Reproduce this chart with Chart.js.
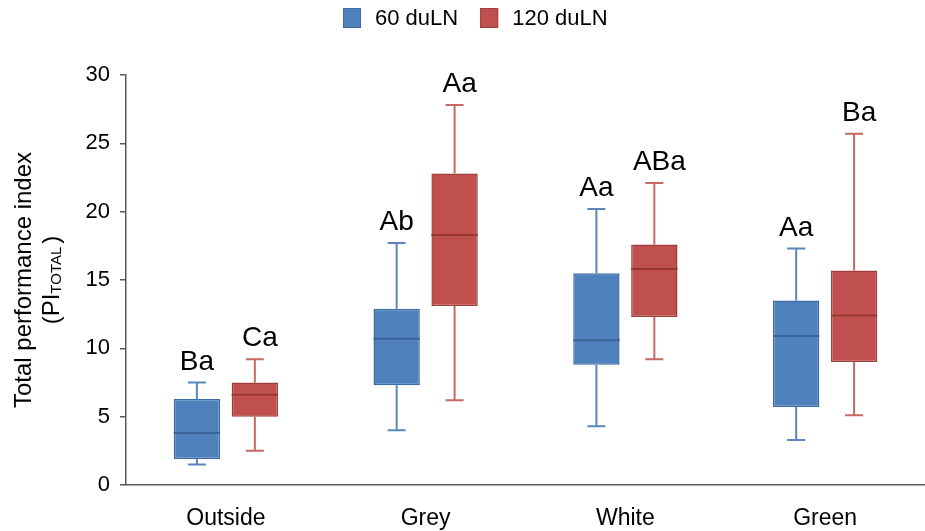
<!DOCTYPE html>
<html>
<head>
<meta charset="utf-8">
<script src="https://cdn.jsdelivr.net/npm/chart.js@4.4.1/dist/chart.umd.min.js"></script>
<style>
html,body{margin:0;padding:0;background:#fff;}
#wrap{width:925px;height:531px;position:relative;}
</style>
</head>
<body>
<div id="wrap"><canvas id="c" width="925" height="531"></canvas></div>
<script>
const categories = ['Outside', 'Grey', 'White', 'Green'];
const seriesNames = ['60 duLN', '120 duLN'];

const min60 = [1.5, 4.0, 4.3, 3.3];
const q1_60 = [1.9, 7.3, 8.8, 5.7];
const median60 = [3.8, 10.7, 10.6, 10.9];
const q3_60 = [6.3, 12.9, 15.5, 13.5];
const max60 = [7.5, 17.7, 20.2, 17.3];
const letters60 = ['Ba', 'Ab', 'Aa', 'Aa'];

const min120 = [2.5, 6.2, 9.2, 5.1];
const q1_120 = [5.0, 13.1, 12.3, 9.0];
const median120 = [6.6, 18.3, 15.8, 12.4];
const q3_120 = [7.5, 22.8, 17.6, 15.7];
const max120 = [9.2, 27.8, 22.1, 25.7];
const letters120 = ['Ca', 'Aa', 'ABa', 'Ba'];

const yTicks = [0, 5, 10, 15, 20, 25, 30];

const FONT = "'Liberation Sans', Arial, Helvetica, sans-serif";

const stats = [
  {min: min60, med: median60, max: max60, letters: letters60, whisker: '#5b86bb', median: '#3a6496'},
  {min: min120, med: median120, max: max120, letters: letters120, whisker: '#c76865', median: '#963836'}
];

const boxPlugin = {
  id: 'boxExtras',
  afterDatasetsDraw(chart) {
    const ctx = chart.ctx;
    const y = chart.scales.y;
    stats.forEach((s, di) => {
      const meta = chart.getDatasetMeta(di);
      meta.data.forEach((bar, i) => {
        const p = bar.getProps(['x', 'width'], true);
        const cx = p.x, w = p.width;
        const yMin = y.getPixelForValue(s.min[i]);
        const yMax = y.getPixelForValue(s.max[i]);
        const yQ1 = y.getPixelForValue(chart.data.datasets[di].data[i][0]);
        const yQ3 = y.getPixelForValue(chart.data.datasets[di].data[i][1]);
        const yMed = y.getPixelForValue(s.med[i]);
        ctx.save();
        ctx.strokeStyle = s.whisker;
        ctx.lineWidth = 2;
        ctx.beginPath();
        ctx.moveTo(cx, yQ3); ctx.lineTo(cx, yMax);
        ctx.moveTo(cx, yQ1); ctx.lineTo(cx, yMin);
        ctx.moveTo(cx - 9, yMax); ctx.lineTo(cx + 9, yMax);
        ctx.moveTo(cx - 9, yMin); ctx.lineTo(cx + 9, yMin);
        ctx.stroke();
        ctx.strokeStyle = s.median;
        ctx.beginPath();
        ctx.moveTo(cx - w / 2, yMed); ctx.lineTo(cx + w / 2, yMed);
        ctx.stroke();
        ctx.fillStyle = '#000';
        ctx.font = '28px ' + FONT;
        ctx.textAlign = 'center';
        ctx.textBaseline = 'alphabetic';
        ctx.fillText(s.letters[i], cx + (di === 1 ? 5 : 0), yMax - 13);
        ctx.restore();
      });
    });
  }
};

const titlePlugin = {
  id: 'yTitle',
  afterDraw(chart) {
    const ctx = chart.ctx;
    const cy = (chart.chartArea.top + chart.chartArea.bottom) / 2;
    ctx.save();
    ctx.fillStyle = '#000';
    ctx.textBaseline = 'middle';
    ctx.translate(24, cy);
    ctx.rotate(-Math.PI / 2);
    ctx.font = '24px ' + FONT;
    ctx.textAlign = 'center';
    ctx.fillText('Total performance index', 0, 0);
    const big = '24px ' + FONT, small = '15px ' + FONT;
    ctx.font = big; const w1 = ctx.measureText('(PI').width;
    const w3 = ctx.measureText(')').width;
    ctx.font = small; const w2 = ctx.measureText('TOTAL').width;
    const total = w1 + w2 + w3 + 3;
    let x = -total / 2;
    ctx.textAlign = 'left';
    ctx.font = big; ctx.fillText('(PI', x, 28); x += w1;
    ctx.font = small; ctx.fillText('TOTAL', x, 33); x += w2 + 3;
    ctx.font = big; ctx.fillText(')', x, 28);
    ctx.restore();
  }
};

const legendPlugin = {
  id: 'customLegend',
  afterDraw(chart) {
    const ctx = chart.ctx;
    ctx.save();
    ctx.font = '22px ' + FONT;
    ctx.textBaseline = 'middle';
    ctx.textAlign = 'left';
    let x = 343;
    const cy = 18;
    chart.data.datasets.forEach((ds) => {
      ctx.fillStyle = ds.backgroundColor;
      ctx.fillRect(x, cy - 10, 18, 20);
      ctx.strokeStyle = ds.borderColor;
      ctx.lineWidth = 1;
      ctx.strokeRect(x + 0.5, cy - 9.5, 17, 19);
      ctx.fillStyle = '#000';
      ctx.fillText(ds.label, x + 32, cy + 1);
      x += 32 + ctx.measureText(ds.label).width + 22;
    });
    ctx.restore();
  }
};

const data = {
  labels: categories,
  datasets: [
    {
      label: seriesNames[0],
      data: categories.map((c, i) => [q1_60[i], q3_60[i]]),
      backgroundColor: '#4f81bd',
      borderColor: '#3d6ca5',
      borderWidth: 1.5,
      borderSkipped: false
    },
    {
      label: seriesNames[1],
      data: categories.map((c, i) => [q1_120[i], q3_120[i]]),
      backgroundColor: '#c0504d',
      borderColor: '#a03e3b',
      borderWidth: 1.5,
      borderSkipped: false
    }
  ]
};

new Chart(document.getElementById('c'), {
  type: 'bar',
  data,
  plugins: [boxPlugin, titlePlugin, legendPlugin],
  options: {
    responsive: false,
    animation: false,
    layout: {padding: {left: 0, right: 0, top: 75, bottom: 0}},
    datasets: {bar: {categoryPercentage: 0.58, barPercentage: 0.8}},
    plugins: {
      tooltip: {enabled: false},
      legend: {display: false}
    },
    scales: {
      x: {
        grid: {display: false, drawTicks: false},
        border: {display: true, color: '#595959', width: 1.5},
        ticks: {color: '#000', padding: 20, font: {family: FONT, size: 23}},
        afterFit(s) { s.height = 46; }
      },
      y: {
        min: 0, max: 30,
        afterBuildTicks(s) { s.ticks = yTicks.map(v => ({value: v})); },
        grid: {display: true, drawOnChartArea: false, drawTicks: true, tickLength: 6, color: '#595959', lineWidth: 1.5},
        border: {display: true, color: '#595959', width: 1.5},
        ticks: {color: '#000', padding: 10, font: {family: FONT, size: 22}},
        afterFit(s) { s.width = 126; }
      }
    }
  }
});
</script>
</body>
</html>
